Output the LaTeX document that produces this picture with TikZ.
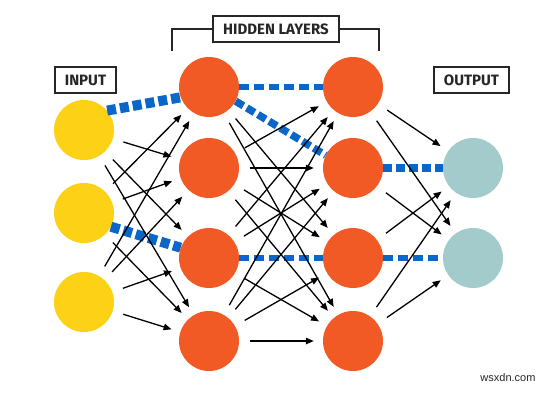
\documentclass[tikz,border=0pt]{standalone}
\usepackage{fontspec}
\setmainfont{Fira Sans}
\newfontfamily\tagfont{Fira Sans}
\newfontfamily\markfont{Liberation Sans}
\usetikzlibrary{arrows.meta}
\definecolor{InputYellow}{HTML}{FCD116}
\definecolor{HiddenOrange}{HTML}{F15A24}
\definecolor{OutputTeal}{HTML}{A3CBCB}
\definecolor{PathBlue}{HTML}{0A66C8}
\definecolor{TagGray}{HTML}{262626}

\begin{document}
\begin{tikzpicture}[x=1pt, y=-1pt,
    neuron/.style={circle, minimum size=60pt, inner sep=0pt},
    tag/.style={draw=TagGray, line width=1.8pt, fill=white, inner xsep=10pt,
                minimum height=26pt, text=TagGray,
                font=\tagfont\bfseries\fontsize{15}{17}\selectfont},
    link/.style={black, line width=1.3pt, -{Triangle[length=8pt,width=6.5pt]},
                 shorten <=11pt, shorten >=9pt},
    heavy path/.style={draw=PathBlue, line width=10pt, dash pattern=on 9pt off 4pt},
    mid path/.style={draw=PathBlue, line width=7.5pt, dash pattern=on 9pt off 4pt},
    light path/.style={draw=PathBlue, line width=5.5pt, dash pattern=on 10pt off 5pt}]
  \useasboundingbox (0,0) rectangle (550,400);

  % layer titles
  \node[tag] (intag) at (85.5,80) {INPUT};
  \node[tag] (outtag) at (471.5,80) {OUTPUT};
  \node[tag] (hidtag) at (276,29) {HIDDEN LAYERS};
  \coordinate (brleft) at (172,51);
  \coordinate (brright) at (379,51);
  \draw[TagGray, line width=1.8pt] (hidtag.west) -| (brleft);
  \draw[TagGray, line width=1.8pt] (hidtag.east) -| (brright);

  % neurons
  \node[neuron, fill=InputYellow] (i1) at (84,130) {};
  \node[neuron, fill=InputYellow] (i2) at (84,213) {};
  \node[neuron, fill=InputYellow] (i3) at (84,302) {};
  \node[neuron, fill=HiddenOrange] (h11) at (209,87) {};
  \node[neuron, fill=HiddenOrange] (h12) at (209,168) {};
  \node[neuron, fill=HiddenOrange] (h13) at (209,258) {};
  \node[neuron, fill=HiddenOrange] (h14) at (209,341) {};
  \node[neuron, fill=HiddenOrange] (h21) at (353,87) {};
  \node[neuron, fill=HiddenOrange] (h22) at (353,168) {};
  \node[neuron, fill=HiddenOrange] (h23) at (353,258) {};
  \node[neuron, fill=HiddenOrange] (h24) at (353,341) {};
  \node[neuron, fill=OutputTeal] (o1) at (473,168) {};
  \node[neuron, fill=OutputTeal] (o2) at (473,258) {};

  % strongest paths
  \draw[heavy path] (i1.40) -- (h11.200);
  \draw[heavy path] (i2.-27) -- (h13.160);
  \draw[mid path] (h11.-28) -- (h22.155);
  \draw[mid path] (h22) -- (o1);
  \draw[light path] (h11) -- (h21);
  \draw[light path] (h13) -- (h23);
  \draw[light path] (h23) -- (o2);

  % remaining weights
  \foreach \a/\b in {i1/h12, i1/h13, i1/h14, i2/h11, i2/h12, i2/h14,
                     i3/h11, i3/h12, i3/h13, i3/h14,
                     h11/h23, h11/h24, h12/h21, h12/h22, h12/h23, h12/h24,
                     h13/h21, h13/h22, h13/h24, h14/h21, h14/h22, h14/h23, h14/h24,
                     h21/o1, h21/o2, h22/o2, h23/o1, h24/o1, h24/o2}
    \draw[link] (\a) -- (\b);

  \node[font=\markfont\fontsize{11}{13}\selectfont, text=black!85] (mark) at (508,378) {wsxdn.com};
\end{tikzpicture}
\end{document}
